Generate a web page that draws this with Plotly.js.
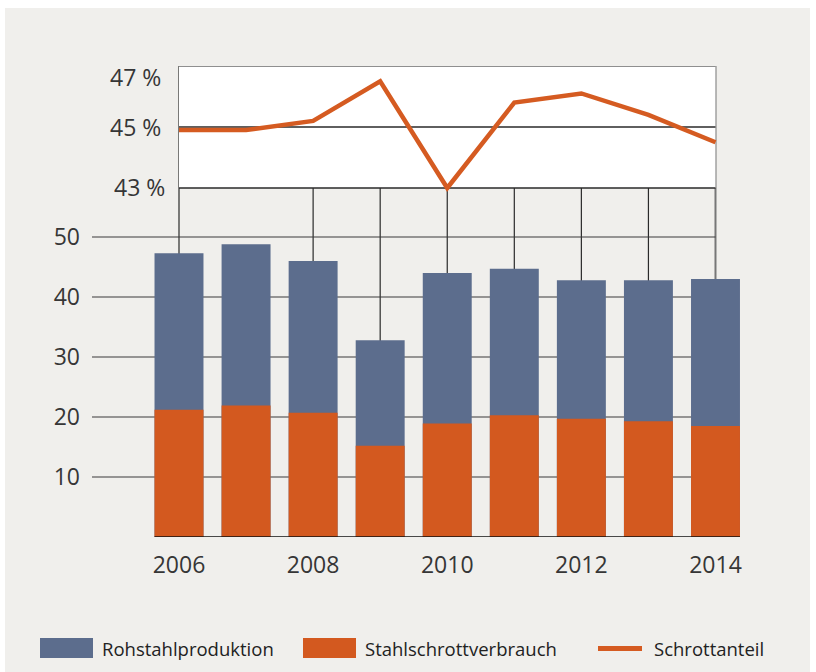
<!DOCTYPE html>
<html>
<head>
<meta charset="utf-8">
<script src="https://cdn.plot.ly/plotly-3.0.1.min.js"></script>
<style>
  html, body { margin: 0; padding: 0; background: #ffffff; width: 816px; height: 672px; overflow: hidden; }
  #chart { position: absolute; left: 5px; top: 8px; width: 805px; height: 664px; }
</style>
</head>
<body>
<div id="chart"></div>
<script>
// ---- data ----
const years = [2006, 2007, 2008, 2009, 2010, 2011, 2012, 2013, 2014];
const rohstahlproduktion = [47.3, 48.8, 46.0, 32.8, 44.0, 44.7, 42.8, 42.8, 43.0];
const stahlschrottverbrauch = [21.2, 21.9, 20.7, 15.2, 18.9, 20.3, 19.7, 19.3, 18.5];
const schrottanteil = [44.9, 44.9, 45.2, 46.5, 43.0, 45.8, 46.1, 45.4, 44.5];
const xTickVals = [2006, 2008, 2010, 2012, 2014];
const yTickVals = [10, 20, 30, 40, 50];
const pctTickVals = [47, 45, 43];
const pctTickText = ['47 %', '45 %', '43 %'];
const vLineYears = [2006, 2008, 2009, 2010, 2011, 2012, 2013, 2014];
const seriesNames = ['Rohstahlproduktion', 'Stahlschrottverbrauch', 'Schrottanteil'];

// ---- styles ----
const BLUE = '#5c6d8d';
const ORANGE = '#d3591f';
const LINE_ORANGE = '#d55b21';
const BG = '#f0efec';
const TEXT = '#363636';
const FONT = '"Open Sans", "Noto Sans", sans-serif';

const X_RANGE = [2004.7027, 2014.44];
const BAR_W = 0.73;

// page-pixel helpers for decoration (plot area spans page x 92..745, y 66..537)
const PL = 92, PR = 745, PT = 66, PB = 537;
const px = v => (v - PL) / (PR - PL);
const py = v => (PB - v) / (PB - PT);

const traces = [
  { type: 'bar', name: seriesNames[0], x: years, y: rohstahlproduktion, width: BAR_W,
    marker: { color: BLUE, line: { width: 0 } }, hoverinfo: 'x+y' },
  { type: 'bar', name: seriesNames[1], x: years, y: stahlschrottverbrauch, width: BAR_W,
    marker: { color: ORANGE, line: { width: 0 } }, hoverinfo: 'x+y' },
  { type: 'scatter', mode: 'lines', name: seriesNames[2], x: years, y: schrottanteil, yaxis: 'y2',
    line: { color: LINE_ORANGE, width: 4.5 }, hoverinfo: 'x+y' }
];

const shapes = [];
// white upper panel
shapes.push({ type: 'rect', layer: 'below', xref: 'x', yref: 'y2', x0: 2006, x1: 2014, y0: 43, y1: 47,
  fillcolor: '#ffffff', line: { width: 0 } });
// lower horizontal gridlines
yTickVals.forEach(v => shapes.push({ type: 'line', layer: 'below', xref: 'x', yref: 'y',
  x0: X_RANGE[0], x1: 2014, y0: v, y1: v, line: { color: '#3a3a3a', width: 1.2 } }));
// upper gridlines (43 %, 45 %)
[43, 45].forEach(v => shapes.push({ type: 'line', layer: 'below', xref: 'x', yref: 'y2',
  x0: 2006, x1: 2014, y0: v, y1: v, line: { color: '#2a2a2a', width: 1.3 } }));
// vertical lines
vLineYears.forEach(yr => shapes.push({ type: 'line', layer: 'below', xref: 'x', yref: 'paper',
  x0: yr, x1: yr, y0: 0, y1: 1,
  line: { color: yr === 2014 ? '#777777' : '#2a2a2a', width: yr === 2014 ? 2 : 1.2 } }));
// top border of the white panel
shapes.push({ type: 'line', layer: 'below', xref: 'x', yref: 'y2', x0: 2006, x1: 2014, y0: 47, y1: 47,
  line: { color: '#6a6a6a', width: 1.6 } });
// baseline
shapes.push({ type: 'line', layer: 'above', xref: 'x', yref: 'y',
  x0: years[0] - BAR_W / 2, x1: years[years.length - 1] + BAR_W / 2, y0: 0, y1: 0,
  line: { color: '#111111', width: 1.3 } });

// manual legend
const legendItems = [
  { kind: 'box', color: BLUE, x0: 40, x1: 93, tx: 101 },
  { kind: 'box', color: ORANGE, x0: 303, x1: 356, tx: 364 },
  { kind: 'line', color: LINE_ORANGE, x0: 598, x1: 642, tx: 653 }
];
legendItems.forEach(it => {
  if (it.kind === 'box') {
    shapes.push({ type: 'rect', xref: 'paper', yref: 'paper', x0: px(it.x0), x1: px(it.x1),
      y0: py(658), y1: py(638), fillcolor: it.color, line: { width: 0 } });
  } else {
    shapes.push({ type: 'line', xref: 'paper', yref: 'paper', x0: px(it.x0), x1: px(it.x1),
      y0: py(648.5), y1: py(648.5), line: { color: it.color, width: 5 } });
  }
});

const annotations = [];
pctTickVals.forEach((v, i) => annotations.push({
  xref: 'paper', yref: 'y2', x: 0, y: v, text: pctTickText[i], showarrow: false,
  xanchor: 'right', yanchor: 'middle',
  xshift: v === 43 ? 75 : 71, yshift: v === 47 ? -11 : (v === 43 ? 1.5 : 0),
  font: { family: FONT, size: 23, color: TEXT }
}));
legendItems.forEach((it, i) => annotations.push({
  xref: 'paper', yref: 'paper', x: px(it.tx - 1), y: py(648), text: seriesNames[i], showarrow: false,
  xanchor: 'left', yanchor: 'middle', font: { family: FONT, size: 18.5, color: '#222222' }
}));

const layout = {
  width: 805, height: 664,
  margin: { l: 87, r: 65, t: 58, b: 135, pad: 0 },
  paper_bgcolor: BG,
  plot_bgcolor: 'rgba(0,0,0,0)',
  barmode: 'overlay',
  showlegend: false,
  font: { family: FONT, color: TEXT },
  xaxis: {
    range: X_RANGE, tickvals: xTickVals, ticktext: xTickVals.map(String),
    showgrid: false, zeroline: false, showline: false, ticks: '',
    ticklabelstandoff: 12,
    tickfont: { family: FONT, size: 23, color: TEXT }
  },
  yaxis: {
    range: [0, 78.5], tickvals: yTickVals, ticktext: yTickVals.map(String),
    showgrid: false, zeroline: false, showline: false, ticks: '',
    ticklabelstandoff: 11,
    tickfont: { family: FONT, size: 23, color: TEXT }
  },
  yaxis2: {
    overlaying: 'y', range: [47 - 471 / 30.5, 47],
    showgrid: false, zeroline: false, showline: false, showticklabels: false, ticks: ''
  },
  shapes: shapes,
  annotations: annotations
};

Plotly.newPlot('chart', traces, layout, { displayModeBar: false, staticPlot: true });
</script>
</body>
</html>
